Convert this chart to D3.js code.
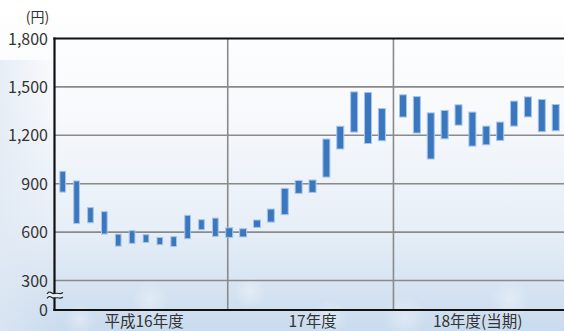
<!DOCTYPE html>
<html>
<head>
<meta charset="utf-8">
<script src="https://cdn.jsdelivr.net/npm/d3@7"></script>
<style>
  html, body { margin: 0; padding: 0; overflow: hidden; background: #fff; }
  svg { display: block; }
  text { font-family: "Noto Sans CJK JP", "Noto Sans", sans-serif; }
</style>
</head>
<body>
<svg id="chart" width="564" height="331"></svg>
<script>
// Fiscal-year groups along the x axis
const fiscalYears = ["平成16年度", "17年度", "18年度(当期)"];
// Months of each fiscal year (April to March)
const months = ["4月", "5月", "6月", "7月", "8月", "9月", "10月", "11月", "12月", "1月", "2月", "3月"];
// Monthly high / low share price (円), FY16 -> FY18
const highs = [980, 920, 755, 730, 590, 612, 587, 570, 575, 707, 680, 690,
               630, 624, 678, 746, 874, 923, 926, 1180, 1259, 1472, 1468, 1369,
               1454, 1443, 1342, 1357, 1392, 1347, 1260, 1285, 1415, 1441, 1425, 1394];
const lows  = [845, 650, 655, 585, 510, 527, 533, 519, 508, 556, 612, 570,
               564, 567, 626, 659, 705, 837, 843, 938, 1112, 1217, 1146, 1163,
               1310, 1211, 1050, 1175, 1260, 1130, 1138, 1165, 1254, 1311, 1219, 1225];
// Y axis ticks (axis is broken between 0 and 300)
const yTicks = [0, 300, 600, 900, 1200, 1500, 1800];
const yTickLabels = ["0", "300", "600", "900", "1,200", "1,500", "1,800"];
const unitLabel = "(円)";

const W = 564, H = 331;
const plot = { left: 54.5, top: 38.5, right: 564, bottom: 310 };

const svg = d3.select("#chart");

// ---- background ----
const defs = svg.append("defs");
const bg = defs.append("linearGradient").attr("id", "bg").attr("x1", 0).attr("y1", 0).attr("x2", 0).attr("y2", 1);
bg.append("stop").attr("offset", 0).attr("stop-color", "#ffffff");
bg.append("stop").attr("offset", 0.35).attr("stop-color", "#f7f9fc");
bg.append("stop").attr("offset", 0.7).attr("stop-color", "#e6eef7");
bg.append("stop").attr("offset", 1).attr("stop-color", "#c9dbee");
const side = defs.append("linearGradient").attr("id", "side").attr("x1", 0).attr("y1", 0).attr("x2", 1).attr("y2", 0);
side.append("stop").attr("offset", 0).attr("stop-color", "#dfe8f3").attr("stop-opacity", 0.7);
side.append("stop").attr("offset", 1).attr("stop-color", "#dfe8f3").attr("stop-opacity", 0);
const glow = defs.append("radialGradient").attr("id", "glow");
glow.append("stop").attr("offset", 0).attr("stop-color", "#ffffff").attr("stop-opacity", 0.35);
glow.append("stop").attr("offset", 1).attr("stop-color", "#ffffff").attr("stop-opacity", 0);

svg.append("rect").attr("width", W).attr("height", H).attr("fill", "url(#bg)");
svg.append("rect").attr("x", 0).attr("y", 60).attr("width", 60).attr("height", 271).attr("fill", "url(#side)");

// soft highlights in the lower background
const glows = [[405, 318, 22], [150, 300, 18], [510, 300, 20], [250, 292, 16], [330, 318, 18], [80, 320, 16]];
svg.append("g").selectAll("circle").data(glows).join("circle")
  .attr("cx", d => d[0]).attr("cy", d => d[1]).attr("r", d => d[2])
  .attr("fill", "url(#glow)");

// ---- scales ----
const y = d3.scaleLinear().domain([0, 300, 1800]).range([plot.bottom, 280.5, plot.top]);
// month index -> x; a wider gap opens before the current fiscal year
const x = d3.scaleLinear().domain([0, 23, 24, 35]).range([62.7, 381.9, 403, 555.7]);
const barWidths = [6.7, 8, 8];

const data = highs.map((h, i) => ({
  i, year: Math.floor(i / 12), month: months[i % 12], high: h, low: lows[i]
}));

// ---- grid ----
const gridColor = "#8a8a8a";
svg.append("g").selectAll("line").data(yTicks.filter(v => v > 0 && v < 1800)).join("line")
  .attr("x1", plot.left).attr("x2", plot.right)
  .attr("y1", d => y(d)).attr("y2", d => y(d))
  .attr("stroke", gridColor).attr("stroke-width", 1.6);

const dividers = [x(12) - 1.5, (x(23) + x(24)) / 2 + 1];
svg.append("g").selectAll("line").data(dividers).join("line")
  .attr("x1", d => d).attr("x2", d => d)
  .attr("y1", plot.top).attr("y2", plot.bottom)
  .attr("stroke", gridColor).attr("stroke-width", 1.6);

// ---- bars (monthly high-low range) ----
svg.append("g").selectAll("rect").data(data).join("rect")
  .attr("x", d => x(d.i) - barWidths[d.year] / 2 + 0.5)
  .attr("width", d => barWidths[d.year] - 1)
  .attr("y", d => y(d.high) + 0.5)
  .attr("height", d => y(d.low) - y(d.high) - 1)
  .attr("fill", "#3b77bf")
  .attr("stroke", "#a6c6e8").attr("stroke-width", 1);

// ---- axes frame ----
const frame = svg.append("g").attr("stroke", "#111").attr("stroke-width", 2.2).attr("fill", "none");
frame.append("line").attr("x1", plot.left).attr("x2", plot.left).attr("y1", plot.top - 1.1).attr("y2", plot.bottom + 1.1);
frame.append("line").attr("x1", plot.left - 1.1).attr("x2", plot.right).attr("y1", plot.top).attr("y2", plot.top);
frame.append("line").attr("x1", plot.left - 1.1).attr("x2", plot.right).attr("y1", plot.bottom).attr("y2", plot.bottom);

// axis break mark between 0 and 300
const bY = 294;
const wave = (yy) => `M47,${yy} q2,-3 4,-1.5 t4,1 t4,0 t4,-1`;
svg.append("path")
  .attr("d", `M47,${bY} q2,-3 4,-1.5 t4,1 t4,0 t4,-1 L63,${bY + 3.2} q-2,2 -4,1 t-4,-1 t-4,1.5 t-4,-1.5 Z`)
  .attr("fill", "#e4edf7");
svg.append("path").attr("d", wave(bY)).attr("fill", "none").attr("stroke", "#222").attr("stroke-width", 1.1);
svg.append("path").attr("d", wave(bY + 4.5)).attr("fill", "none").attr("stroke", "#222").attr("stroke-width", 1.1);

// ---- y tick labels ----
svg.append("g").selectAll("text").data(yTicks).join("text")
  .attr("x", 48).attr("y", d => y(d) + 6)
  .attr("text-anchor", "end")
  .attr("font-size", 16).attr("fill", "#333")
  .text((d, k) => yTickLabels[k]);

svg.append("text").attr("x", 37.5).attr("y", 22).attr("text-anchor", "middle")
  .attr("font-size", 14).attr("fill", "#333").text(unitLabel);

// ---- fiscal-year labels ----
const yearCenters = [
  (plot.left + dividers[0]) / 2 + 3,
  (dividers[0] + dividers[1]) / 2 + 2,
  (dividers[1] + plot.right) / 2 - 1
];
svg.append("g").selectAll("text").data(fiscalYears).join("text")
  .attr("x", (d, k) => yearCenters[k]).attr("y", 326.5)
  .attr("text-anchor", "middle")
  .attr("font-size", 15.5).attr("fill", "#333")
  .text(d => d);
</script>
</body>
</html>
